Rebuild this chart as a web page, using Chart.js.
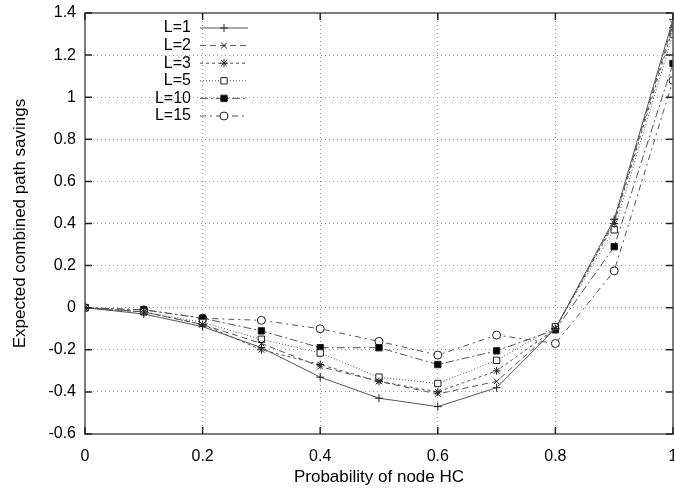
<!DOCTYPE html>
<html>
<head>
<meta charset="utf-8">
<script src="https://cdn.jsdelivr.net/npm/chart.js@4/dist/chart.umd.min.js"></script>
<style>
  html, body { margin: 0; padding: 0; background: #fff; }
  #wrap { width: 674px; height: 491px; overflow: hidden; position: relative; }
  canvas { display: block; }
</style>
</head>
<body>
<div id="wrap"><canvas id="chart" width="700" height="491"></canvas></div>
<script>
// probability of node HC
const probs = [0, 0.1, 0.2, 0.3, 0.4, 0.5, 0.6, 0.7, 0.8, 0.9, 1.0];

// expected combined path savings per L
const l1  = [0, -0.03, -0.09, -0.19, -0.33, -0.43, -0.47, -0.38, -0.10, 0.42, 1.37];
const l2  = [0, -0.02, -0.08, -0.17, -0.28, -0.35, -0.41, -0.35, -0.10, 0.41, 1.35];
const l3  = [0, -0.02, -0.08, -0.20, -0.27, -0.35, -0.40, -0.30, -0.10, 0.40, 1.33];
const l5  = [0, -0.02, -0.07, -0.15, -0.215, -0.33, -0.36, -0.25, -0.09, 0.37, 1.30];
const l10 = [0, -0.01, -0.05, -0.11, -0.19, -0.19, -0.27, -0.205, -0.105, 0.29, 1.16];
const l15 = [0, -0.01, -0.05, -0.06, -0.10, -0.16, -0.225, -0.13, -0.17, 0.175, 1.08];

const xTicks = [0, 0.2, 0.4, 0.6, 0.8, 1];
const yTicks = [-0.6, -0.4, -0.2, 0, 0.2, 0.4, 0.6, 0.8, 1, 1.2, 1.4];

const FONT = "'Liberation Sans', Arial, sans-serif";
const LINE = '#555';

function series(label, vals, style, dash, fill) {
    return {
        label: label,
        data: probs.map((x, i) => ({ x: x, y: vals[i] })),
        borderColor: LINE,
        borderWidth: 1,
        borderDash: dash,
        pointStyle: style,
        pointRadius: style === 'rect' ? 4.5 : 4,
        pointBorderColor: '#222',
        pointBackgroundColor: fill,
        pointBorderWidth: 1,
        tension: 0,
        fill: false
    };
}

// gnuplot style frame with inward ticks
const framePlugin = {
    id: 'frame',
    afterDraw(chart) {
        const ctx = chart.ctx;
        const a = chart.chartArea;
        const xs = chart.scales.x, ys = chart.scales.y;
        ctx.save();
        ctx.strokeStyle = LINE;
        ctx.lineWidth = 1.5;
        ctx.setLineDash([]);
        ctx.strokeRect(a.left, a.top, a.right - a.left, a.bottom - a.top);
        ctx.strokeStyle = '#222';
        ctx.beginPath();
        yTicks.forEach(v => {
            const y = ys.getPixelForValue(v);
            ctx.moveTo(a.left, y); ctx.lineTo(a.left + 7, y);
            ctx.moveTo(a.right, y); ctx.lineTo(a.right - 7, y);
        });
        xTicks.forEach(v => {
            const x = xs.getPixelForValue(v);
            ctx.moveTo(x, a.bottom); ctx.lineTo(x, a.bottom - 7);
            ctx.moveTo(x, a.top); ctx.lineTo(x, a.top + 7);
        });
        ctx.stroke();
        ctx.restore();
    }
};

// key: label first, then line sample with marker
const keyPlugin = {
    id: 'key',
    afterDraw(chart) {
        const ctx = chart.ctx;
        ctx.save();
        ctx.font = '16px ' + FONT;
        ctx.textAlign = 'right';
        ctx.textBaseline = 'middle';
        chart.data.datasets.forEach((ds, i) => {
            const y = 28 + i * 17.6;
            ctx.fillStyle = '#000';
            ctx.fillText(ds.label, 191, y);
            ctx.strokeStyle = LINE;
            ctx.lineWidth = 1;
            ctx.setLineDash(ds.borderDash);
            ctx.beginPath();
            ctx.moveTo(200, y); ctx.lineTo(248, y);
            ctx.stroke();
            ctx.setLineDash([]);
            ctx.strokeStyle = ds.pointBorderColor;
            ctx.fillStyle = ds.pointBackgroundColor;
            Chart.helpers.drawPoint(ctx, {
                pointStyle: ds.pointStyle,
                radius: ds.pointRadius,
                rotation: 0,
                borderWidth: 1
            }, 224, y);
        });
        ctx.restore();
    }
};

new Chart(document.getElementById('chart'), {
    type: 'line',
    data: {
        datasets: [
            series('L=1', l1, 'cross', [], '#222'),
            series('L=2', l2, 'crossRot', [6, 4], '#222'),
            series('L=3', l3, 'star', [3, 3], '#222'),
            series('L=5', l5, 'rect', [1, 2], '#fff'),
            series('L=10', l10, 'rect', [8, 3, 2, 3], '#000'),
            series('L=15', l15, 'circle', [6, 4, 2, 4], '#fff')
        ]
    },
    options: {
        responsive: false,
        animation: false,
        layout: { padding: { left: 0, top: 13, right: 27, bottom: 0 } },
        plugins: {
            legend: { display: false },
            tooltip: { enabled: false }
        },
        scales: {
            x: {
                type: 'linear',
                min: 0,
                max: 1,
                afterBuildTicks: s => { s.ticks = xTicks.map(v => ({ value: v })); },
                afterFit: s => { s.height = 57; s.paddingLeft = 0; s.paddingRight = 0; },
                grid: { color: '#999', lineWidth: 1, drawTicks: false },
                border: { display: false, dash: [1, 3] },
                ticks: {
                    color: '#000',
                    font: { family: FONT, size: 16 },
                    padding: 13,
                    maxRotation: 0,
                    callback: v => String(Number(v.toFixed(1)))
                },
                title: {
                    display: true,
                    text: 'Probability of node HC',
                    color: '#000',
                    font: { family: FONT, size: 17 },
                    padding: { top: 0, bottom: 3 }
                }
            },
            y: {
                min: -0.6,
                max: 1.4,
                afterBuildTicks: s => { s.ticks = yTicks.map(v => ({ value: v })); },
                afterFit: s => { s.width = 85; s.paddingTop = 0; s.paddingBottom = 0; },
                grid: { color: '#999', lineWidth: 1, drawTicks: false },
                border: { display: false, dash: [1, 3] },
                ticks: {
                    color: '#000',
                    font: { family: FONT, size: 16 },
                    padding: 9,
                    callback: v => String(Number(v.toFixed(1)))
                },
                title: {
                    display: true,
                    text: 'Expected combined path savings',
                    color: '#000',
                    font: { family: FONT, size: 17 },
                    padding: { top: 10, bottom: 0 }
                }
            }
        }
    },
    plugins: [framePlugin, keyPlugin]
});
</script>
</body>
</html>
